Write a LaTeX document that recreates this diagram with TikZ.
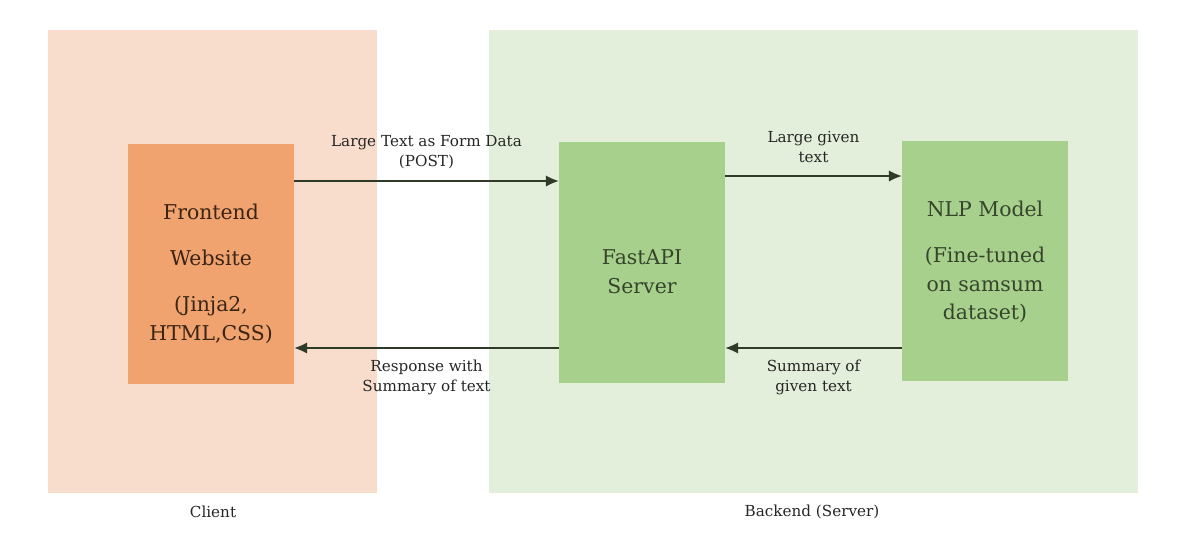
\documentclass[tikz,border=0pt]{standalone}
\usepackage{fontspec}
\setmainfont{DejaVu Serif}
\usepackage{tikz}
\usetikzlibrary{positioning,arrows.meta}

\definecolor{peachbg}{HTML}{F8DDCC}
\definecolor{peachbox}{HTML}{F0A36E}
\definecolor{greenbg}{HTML}{E3EFDB}
\definecolor{greenbox}{HTML}{A8D08D}
\definecolor{browntext}{HTML}{3A2414}
\definecolor{greentext}{HTML}{35442B}
\definecolor{arrowcol}{HTML}{2F3A28}

\tikzset{
  block/.style={rectangle,inner sep=0pt,minimum width=4.15cm,minimum height=6cm,align=center,font=\fontsize{14.5}{20.3}\selectfont},
  lbl/.style={align=center,inner sep=0pt,text=black!85,font=\fontsize{10.8}{14.2}\selectfont},
  flow/.style={-{Latex[length=3.2mm,width=2.8mm]},thick,draw=arrowcol}
}

\begin{document}
\begin{tikzpicture}[x=0.025cm,y=-0.025cm]
\useasboundingbox (0,0) rectangle (1183,541);
% background regions
\fill[peachbg] (48,30) rectangle (377,493);
\fill[greenbg] (489,30) rectangle (1138,493);
\node[lbl] (client) at (213,512) {Client};
\node[lbl] (backend) at (812,512) {Backend (Server)};

% boxes
\node[block,fill=peachbox,text=browntext] (front) at (211,264) {};
\node[block,fill=greenbox,text=greentext] (fast) at (642,262.5) {};
\node[block,fill=greenbox,text=greentext] (nlp) at (985,261) {};
\node[block,minimum size=0pt,text=browntext] (fronttxt) at (211,274)
  {Frontend\\[12.4pt]Website\\[12.4pt](Jinja2,\\HTML,CSS)};
\node[block,minimum size=0pt,text=greentext] (fasttxt) at (642,271.5)
  {FastAPI\\Server};
\node[block,minimum size=0pt,text=greentext] (nlptxt) at (985,262)
  {NLP Model\\[12.4pt](Fine-tuned\\on samsum\\dataset)};

% arrows
\draw[flow] (front.east |- 0,181) -- (fast.west |- 0,181)
  node[lbl,midway,above=8.5pt] (post) {Large Text as Form Data\\(POST)};
\draw[flow] (fast.west |- 0,348) -- (front.east |- 0,348)
  node[lbl,midway,below=8pt] (resp) {Response with\\Summary of text};
\draw[flow] (fast.east |- 0,176) -- (nlp.west |- 0,176)
  node[lbl,midway,above=9pt] (given) {Large given\\text};
\draw[flow] (nlp.west |- 0,348) -- (fast.east |- 0,348)
  node[lbl,midway,below=8pt] (summ) {Summary of\\given text};
\end{tikzpicture}
\end{document}
